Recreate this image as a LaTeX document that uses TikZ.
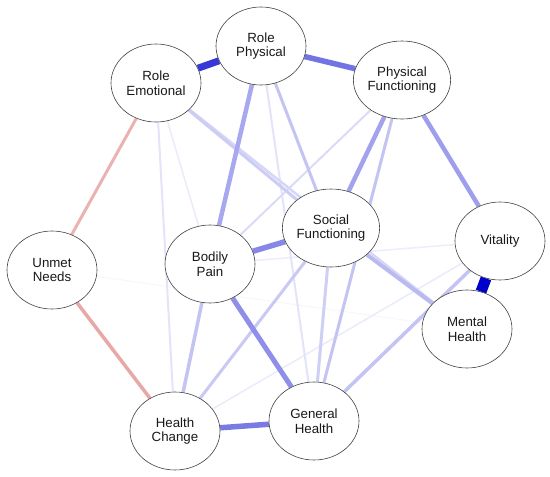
\documentclass[tikz,border=0pt]{standalone}
\usepackage{fontspec}
\setmainfont{Liberation Sans}
\usetikzlibrary{backgrounds,shapes.geometric}
\definecolor{ebase}{HTML}{0000CC}
\definecolor{pinkedge}{HTML}{E8A8A8}
\begin{document}
\begin{tikzpicture}[x=1pt,y=-1pt,
  var/.style={draw=black!75, line width=0.6pt, fill=white, ellipse, minimum width=90pt, minimum height=78pt, inner sep=0pt, align=center, font=\fontsize{13.3}{14.5}\selectfont, text=black!90},
  w/.style={line width=#1},
  ]
\path[use as bounding box] (0,0) rectangle (550,477);
\node[var] (RE) at (156,83) {Role\\Emotional};
\node[var] (RP) at (261,46) {Role\\Physical};
\node[var] (PF) at (402,80) {Physical\\Functioning};
\node[var] (SF) at (331,228) {Social\\Functioning};
\node[var] (BP) at (210,264) {Bodily\\Pain};
\node[var] (UN) at (52,270) {Unmet\\Needs};
\node[var] (VT) at (500,241) {Vitality};
\node[var] (MH) at (467,329) {Mental\\Health};
\node[var] (GH) at (314,421) {General\\Health};
\node[var] (HC) at (175,431) {Health\\Change};
\begin{scope}[on background layer]
  \fill[white] (0,0) rectangle (550,477);
  % very faint edges
  \draw[w=1, ebase!3] (UN) -- (MH);
  \draw[w=1.5, ebase!8] (HC) -- (VT);
  \draw[w=1.5, ebase!7] (BP) -- (VT);
  \draw[w=1.5, ebase!8] (RE) -- (BP);
  \draw[w=2, ebase!11] (RE) -- (HC);
  \draw[w=2, ebase!11] (RP) -- (GH);
  \draw[w=2, ebase!14] (PF) -- (BP);
  \draw[w=2.5, ebase!16] (RE) -- (MH);
  % light edges
  \draw[w=3, ebase!20] (RE) -- (SF);
  \draw[w=3, ebase!23] (RP) -- (SF);
  \draw[w=3, ebase!19] (SF) -- (GH);
  \draw[w=3, ebase!23] (PF) -- (GH);
  \draw[w=3, ebase!21] (SF) -- (HC);
  \draw[w=3.5, ebase!23] (BP) -- (HC);
  \draw[w=3.5, ebase!23] (VT) -- (GH);
  \draw[w=4, ebase!27] (SF) -- (MH);
  % medium edges
  \draw[w=4.5, ebase!36] (PF) -- (SF);
  \draw[w=4.5, ebase!34] (RP) -- (BP);
  \draw[w=4.5, ebase!38] (PF) -- (VT);
  \draw[w=5, ebase!44] (BP) -- (GH);
  \draw[w=5.5, ebase!47] (BP) -- (SF);
  \draw[w=5.5, ebase!52] (HC) -- (GH);
  \draw[w=5.5, ebase!55] (RP) -- (PF);
  \draw[w=7, ebase!78] (RE) -- (RP);
  \draw[w=11, ebase] (VT) -- (MH);
  % negative edges
  \draw[w=3, pinkedge!88] (RE) -- (UN);
  \draw[w=3.5, pinkedge] (UN) -- (HC);
\end{scope}
\end{tikzpicture}
\end{document}
